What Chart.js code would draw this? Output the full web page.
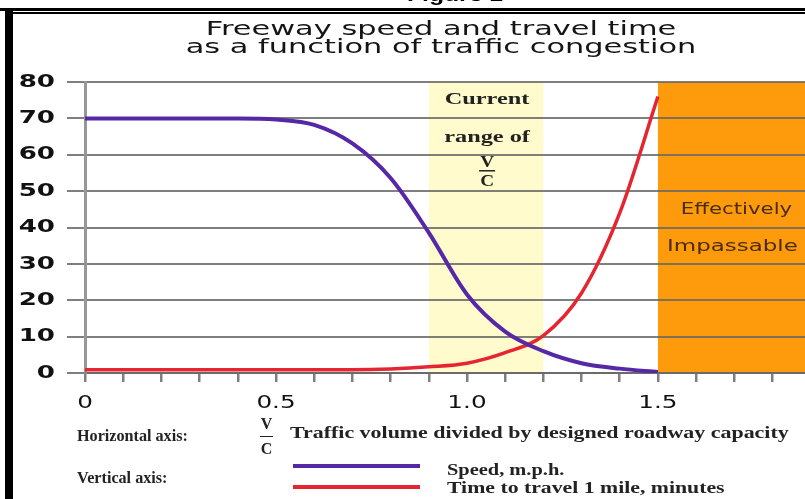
<!DOCTYPE html>
<html>
<head>
<meta charset="utf-8">
<script src="https://cdn.jsdelivr.net/npm/chart.js@4/dist/chart.umd.min.js"></script>
<style>
  body { margin: 0; background: #fff; }
  #wrap { position: relative; width: 805px; height: 499px; overflow: hidden; background: #fff; }
  #chart-box { position: absolute; left: 0; top: 0; width: 805px; height: 499px; }
  .abs { position: absolute; white-space: nowrap; }
  .fig { left: 0; width: 910px; top: -16px; text-align: center; font: bold 19px "Liberation Sans", sans-serif; transform: scaleX(1.3); }
  .rule1 { left: 0; top: 8px; width: 805px; height: 3px; background: #000; }
  .rule2 { left: 5px; top: 12px; width: 800px; height: 2px; background: #000; }
  .leftbar { left: 5px; top: 8px; width: 8px; height: 491px; background: #000; }
  .title { left: 0; width: 882px; top: 19px; text-align: center; font: 19px/18px "DejaVu Sans", sans-serif; color: #151515; transform: scaleX(1.6); }
  .note { font: bold 17px "Liberation Serif", serif; color: #222; transform-origin: 0 0; }
  .frac { display: flex; flex-direction: column; align-items: center; font: bold 16px/14px "Liberation Serif", serif; color: #222; }
  .frac .bar { width: 13px; height: 1px; background: #222; margin: 5px 0 5px; }
  .key { height: 4px; }
</style>
</head>
<body>
<div id="wrap">
  <div id="chart-box"><canvas id="chart"></canvas></div>
  <div class="abs fig">Figure 1</div>
  <div class="abs rule1"></div>
  <div class="abs rule2"></div>
  <div class="abs leftbar"></div>
  <div class="abs title">Freeway speed and travel time<br>as a function of traffic congestion</div>

  <div class="abs note" style="left:77px; top:426px; transform:scaleX(0.95);">Horizontal axis:</div>
  <div class="abs frac" style="left:260px; top:417px;"><span>V</span><span class="bar"></span><span>C</span></div>
  <div class="abs note" style="left:290px; top:423px; transform:scaleX(1.29);">Traffic volume divided by designed roadway capacity</div>
  <div class="abs note" style="left:77px; top:468px; transform:scaleX(0.95);">Vertical axis:</div>
  <div class="abs key" id="key-speed" style="left:293px; top:464px; width:127px;"></div>
  <div class="abs key" id="key-time" style="left:293px; top:485px; width:127px;"></div>
  <div class="abs note" style="left:447px; top:460px; transform:scaleX(1.2);">Speed, m.p.h.</div>
  <div class="abs note" style="left:447px; top:478px; transform:scaleX(1.28);">Time to travel 1 mile, minutes</div>
</div>
<script>
// V/C ratio and the two curves
const vcRatio = [0, 0.1, 0.2, 0.3, 0.4, 0.5, 0.6, 0.7, 0.8, 0.9, 1.0, 1.1, 1.2, 1.3, 1.4, 1.5];
const speedMph = [70, 70, 70, 70, 70, 69.7, 68.2, 63.1, 53.6, 38.6, 21.6, 11.4, 6.0, 2.7, 1.2, 0.3];
const minutesPerMile = [0.9, 0.9, 0.9, 0.9, 0.9, 0.9, 0.9, 0.9, 1.1, 1.7, 2.7, 5.6, 10.3, 22, 44, 76];

const xTickValues = [0, 0.5, 1.0, 1.5];
const xTickLabels = ['0', '0.5', '1.0', '1.5'];
const currentRange = [0.9, 1.2];
const impassableFrom = 1.5;
const xMax = 1.885;

const SPEED_COLOR = '#5628a6';
const TIME_COLOR = '#e52530';
const GRID = 'rgba(105,105,105,0.85)';

document.getElementById('key-speed').style.background = SPEED_COLOR;
document.getElementById('key-time').style.background = TIME_COLOR;

const toPoints = (ys) => vcRatio.map((x, i) => ({ x, y: ys[i] }));

// the scanned figure is stretched sideways, so text is drawn widened
function wideText(ctx, text, x, y, sx, align) {
  ctx.save();
  ctx.translate(x, y);
  ctx.scale(sx, 1);
  ctx.textAlign = align;
  ctx.fillText(text, 0, 0);
  ctx.restore();
}

const bandsPlugin = {
  id: 'bands',
  beforeDraw(chart) {
    const { ctx, chartArea: a, scales: { x } } = chart;
    ctx.save();
    ctx.fillStyle = '#fffbcd';
    const b0 = x.getPixelForValue(currentRange[0]);
    const b1 = x.getPixelForValue(currentRange[1]);
    ctx.fillRect(b0, a.top, b1 - b0, a.bottom - a.top);
    ctx.fillStyle = '#fd9b0c';
    const o = x.getPixelForValue(impassableFrom);
    ctx.fillRect(o, a.top, a.right - o, a.bottom - a.top);
    ctx.restore();
  },
  beforeDatasetsDraw(chart) {
    const { ctx, chartArea: a, scales: { x, y } } = chart;
    ctx.save();
    ctx.textBaseline = 'middle';
    const cx = x.getPixelForValue((currentRange[0] + currentRange[1]) / 2) + 1;
    ctx.fillStyle = '#222';
    ctx.font = 'bold 16px "Liberation Serif", serif';
    wideText(ctx, 'Current', cx, y.getPixelForValue(75), 1.52, 'center');
    wideText(ctx, 'range of', cx, y.getPixelForValue(64.6), 1.52, 'center');
    wideText(ctx, 'V', cx, y.getPixelForValue(57.8), 1.2, 'center');
    ctx.fillRect(cx - 8, y.getPixelForValue(55.8), 16, 1.5);
    wideText(ctx, 'C', cx, y.getPixelForValue(52.6), 1.2, 'center');
    const ox = (x.getPixelForValue(impassableFrom) + a.right) / 2;
    ctx.fillStyle = '#4a2c10';
    ctx.font = '15px "DejaVu Sans", sans-serif';
    wideText(ctx, 'Effectively', ox + 5, y.getPixelForValue(44.8), 1.42, 'center');
    wideText(ctx, 'Impassable', ox + 1, y.getPixelForValue(34.6), 1.53, 'center');
    ctx.restore();
  },
  afterDraw(chart) {
    const { ctx, scales: { x, y } } = chart;
    ctx.save();
    ctx.textBaseline = 'middle';
    ctx.fillStyle = '#111';
    ctx.font = 'bold 18px "DejaVu Sans", sans-serif';
    y.ticks.forEach((t) => wideText(ctx, String(t.value), 55, y.getPixelForValue(t.value), 1.45, 'right'));
    ctx.font = '17px "DejaVu Sans", sans-serif';
    xTickValues.forEach((v, i) => wideText(ctx, xTickLabels[i], x.getPixelForValue(v), 404, 1.45, 'center'));
    ctx.restore();
  },
};

new Chart(document.getElementById('chart'), {
  type: 'line',
  data: {
    datasets: [
      {
        label: 'Speed, m.p.h.',
        data: toPoints(speedMph),
        borderColor: SPEED_COLOR,
        borderWidth: 4,
        pointRadius: 0,
        cubicInterpolationMode: 'monotone',
      },
      {
        label: 'Time to travel 1 mile, minutes',
        data: toPoints(minutesPerMile),
        borderColor: TIME_COLOR,
        borderWidth: 3.5,
        pointRadius: 0,
        cubicInterpolationMode: 'monotone',
      },
    ],
  },
  options: {
    responsive: true,
    maintainAspectRatio: false,
    animation: false,
    layout: { padding: { top: 82, left: 0, right: 0, bottom: 0 } },
    plugins: { legend: { display: false }, title: { display: false }, tooltip: { enabled: false } },
    scales: {
      x: {
        type: 'linear',
        min: 0,
        max: xMax,
        afterFit: (s) => { s.height = 126; },
        grid: { drawOnChartArea: false, color: GRID, lineWidth: 2.5, tickLength: 9 },
        border: { display: true, color: GRID, width: 2 },
        ticks: { stepSize: 0.1, includeBounds: false, autoSkip: false, display: false },
      },
      y: {
        min: 0,
        max: 80,
        afterFit: (s) => { s.width = 85; },
        grid: { color: GRID, lineWidth: 2, tickLength: 18 },
        border: { display: true, color: 'rgba(140,140,140,0.9)', width: 3 },
        ticks: { stepSize: 10, display: false },
      },
    },
  },
  plugins: [bandsPlugin],
});
</script>
</body>
</html>
